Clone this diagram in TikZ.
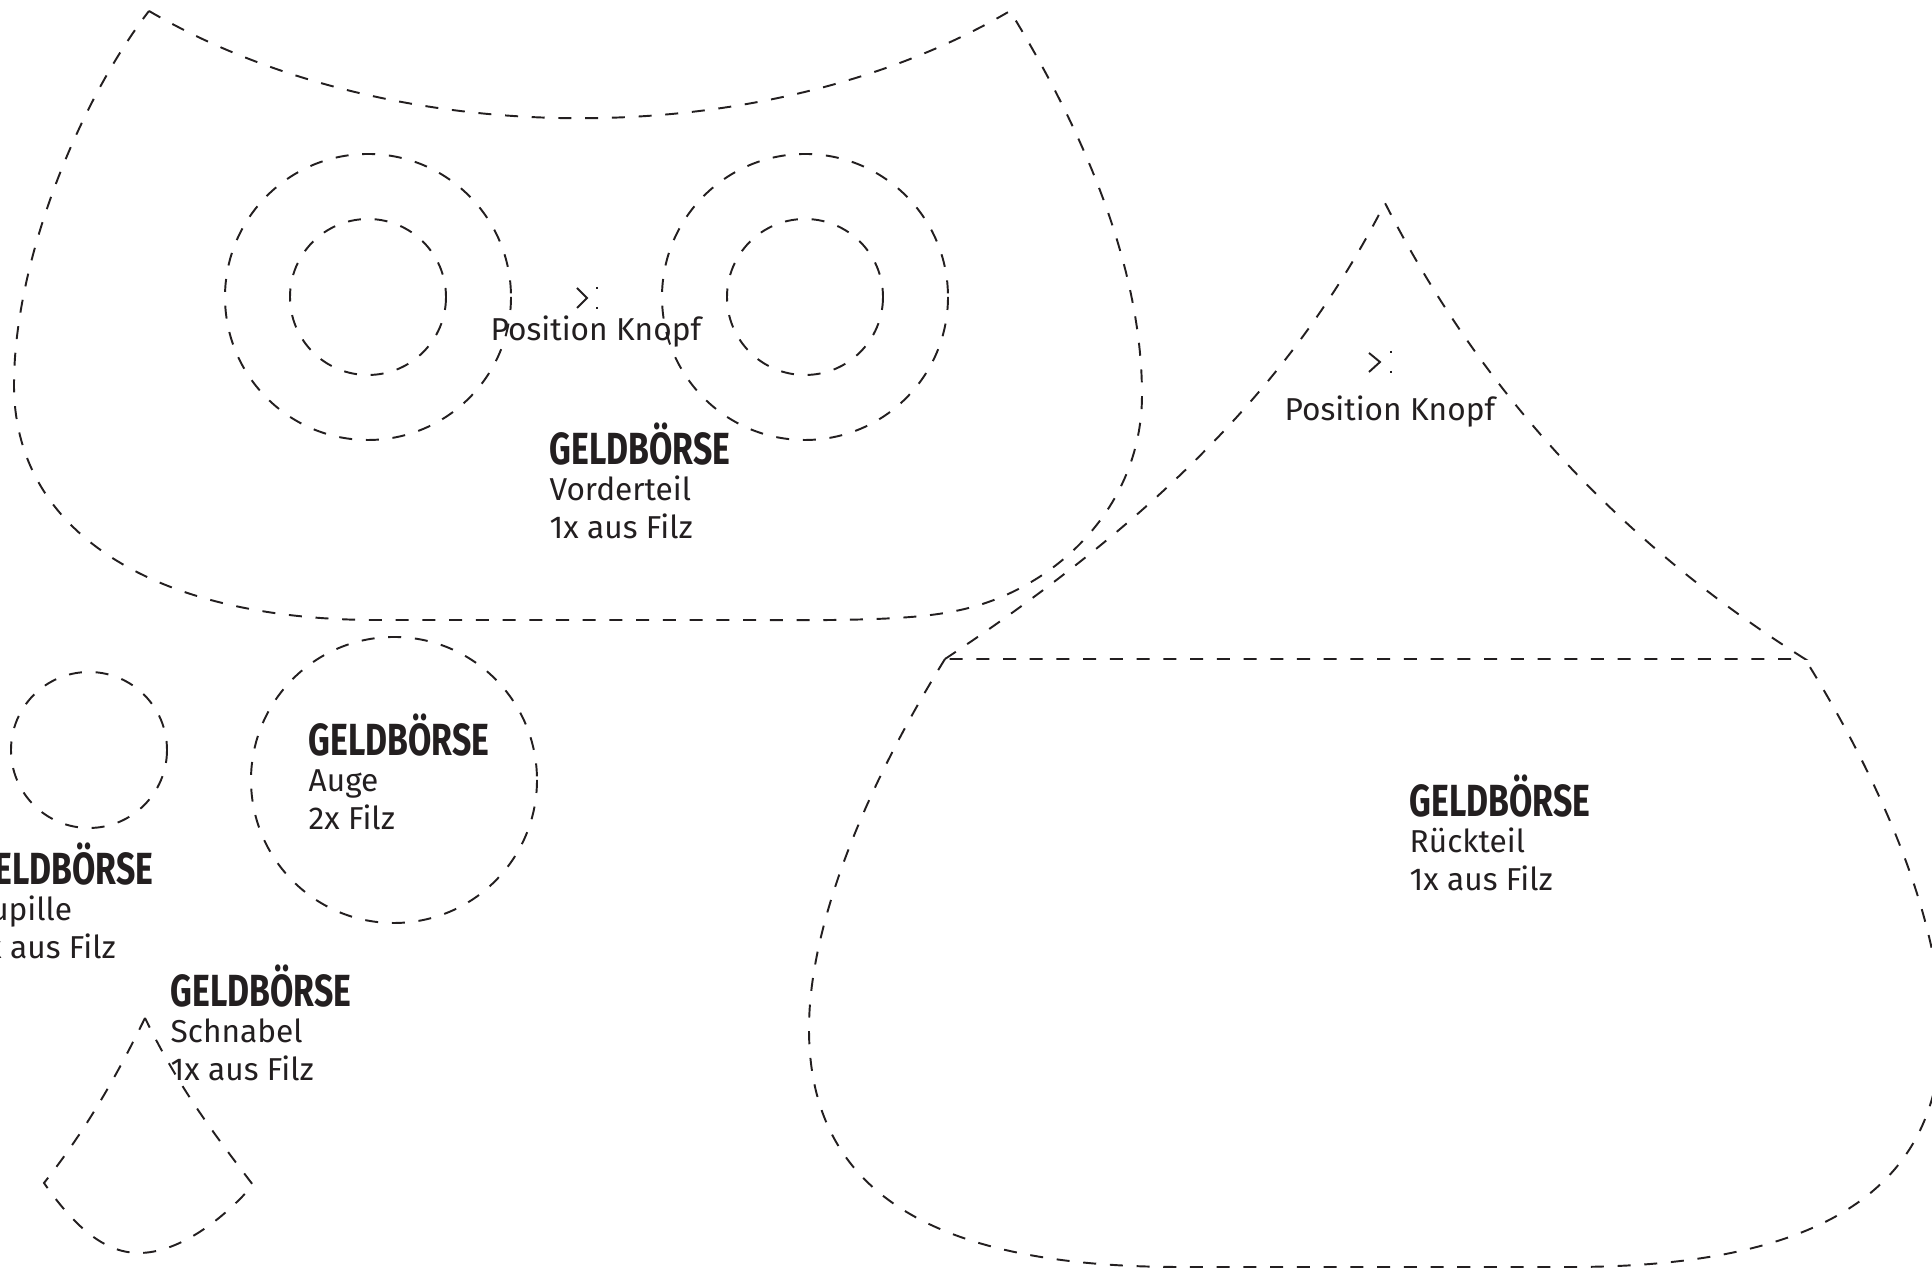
\documentclass[tikz,border=0pt]{standalone}
\usepackage{fontspec}
\setmainfont{Fira Sans}
\newfontfamily\titlefont[FakeStretch=0.75]{Fira Sans}
\definecolor{ink}{HTML}{231F20}

\begin{document}
\begin{tikzpicture}[x=0.01cm,y=-0.01cm]
        \tikzstyle{cut}=[draw=ink,line width=0.55pt,dash pattern=on 3.7pt off 3.9pt]
        \tikzstyle{knopf}=[draw=ink,line width=0.55pt]
        \tikzstyle{title}=[anchor=base west,inner sep=0pt,text=ink,font=\titlefont\bfseries\fontsize{12.8}{14}\selectfont]
        \tikzstyle{sub}=[anchor=base west,inner sep=0pt,text=ink,font=\fontsize{9}{11}\selectfont]

        \useasboundingbox (0,0) rectangle (1932,1271);

        % Vorderteil
        \draw[cut] (149,11) .. controls (394,154) and (766,154) .. (1010,11)
            .. controls (1095,150) and (1142,280) .. (1142,395)
            .. controls (1142,510) and (1050,595) .. (950,612)
            .. controls (900,622) and (800,620) .. (740,620)
            -- (370,620)
            .. controls (150,618) and (14,530) .. (14,385)
            .. controls (14,260) and (80,100) .. (149,11);
        \draw[cut] (368,297) circle (143);
        \draw[cut] (368,297) circle (78);
        \draw[cut] (805,297) circle (143);
        \draw[cut] (805,297) circle (78);
        \draw[knopf] (577,288) -- (587,298) -- (577,308);
        \draw[knopf] (597,287) -- (597,289);
        \draw[knopf] (597,307) -- (597,309);

        % Rueckteil
        \draw[cut] (945,659) .. controls (1170,510) and (1300,370) .. (1385,203)
            .. controls (1470,370) and (1600,530) .. (1805,659) -- (945,659);
        \draw[cut] (945,659) .. controls (870,780) and (809,920) .. (809,1029)
            .. controls (809,1190) and (930,1267) .. (1180,1267)
            -- (1570,1267)
            .. controls (1820,1267) and (1941,1190) .. (1941,1029)
            .. controls (1941,920) and (1880,780) .. (1805,659);
        \draw[knopf] (1369,353) -- (1380,362) -- (1369,372);
        \draw[knopf] (1391,351) -- (1391,353);
        \draw[knopf] (1391,371) -- (1391,373);

        % Pupille, Auge
        \draw[cut] (89,750) circle (78);
        \draw[cut] (394,780) circle (143);

        % Schnabel
        \draw[cut] (145,1018) .. controls (110,1090) and (78,1140) .. (44,1183)
            .. controls (78,1232) and (108,1253) .. (139,1253)
            .. controls (175,1253) and (218,1225) .. (253,1185)
            .. controls (215,1135) and (180,1090) .. (145,1018);

        \node[sub](knopf1) at (490,341){Position Knopf};
        \node[sub](knopf2) at (1284,421){Position Knopf};

        \node[title](vtitle) at (549,465){GELDBÖRSE};
        \node[sub](vname) at (549,501){Vorderteil};
        \node[sub](vcount) at (549,539){1x aus Filz};

        \node[title](atitle) at (308,756){GELDBÖRSE};
        \node[sub](aname) at (308,792){Auge};
        \node[sub](acount) at (308,830){2x Filz};

        \node[title](ptitle) at (-28,885){GELDBÖRSE};
        \node[sub](pname) at (-28,921){Pupille};
        \node[sub](pcount) at (-28,959){1x aus Filz};

        \node[title](stitle) at (170,1007){GELDBÖRSE};
        \node[sub](sname) at (170,1043){Schnabel};
        \node[sub](scount) at (170,1081){1x aus Filz};

        \node[title](rtitle) at (1409,817){GELDBÖRSE};
        \node[sub](rname) at (1409,853){Rückteil};
        \node[sub](rcount) at (1409,891){1x aus Filz};
\end{tikzpicture}
\end{document}
